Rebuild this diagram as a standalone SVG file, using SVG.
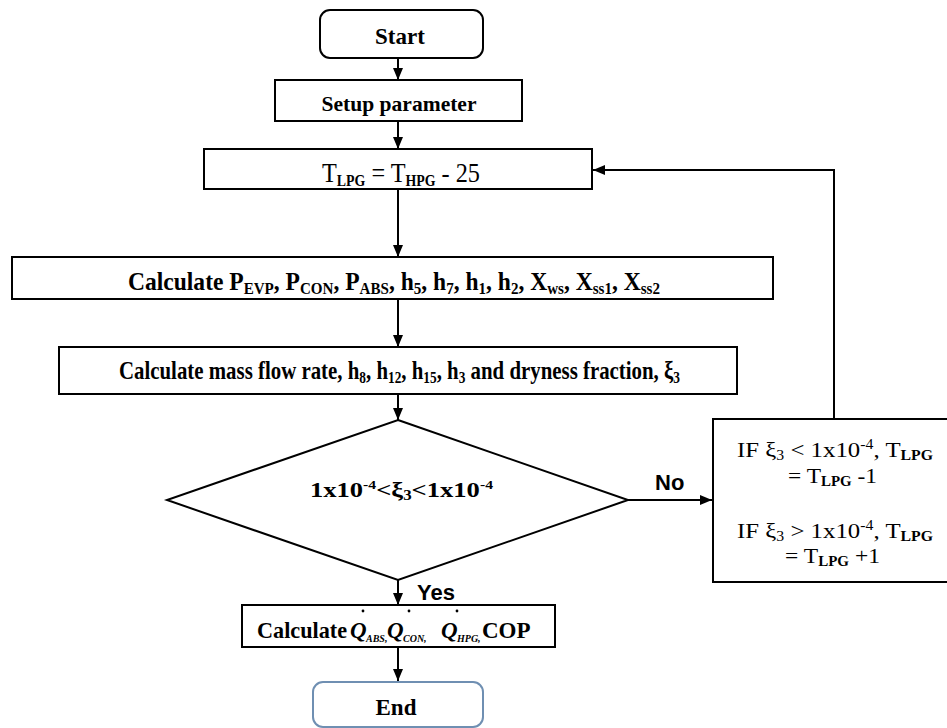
<svg xmlns="http://www.w3.org/2000/svg" width="947" height="728" viewBox="0 0 947 728">
<style>
.box{fill:#fff;stroke:#000;stroke-width:2}
.rbox{fill:#fff;stroke:#000;stroke-width:2}
.ebox{fill:#fff;stroke:#6f8fb2;stroke-width:2}
.t{font-family:"Liberation Serif","Times New Roman",serif;font-weight:bold;fill:#000}
.r{font-family:"Liberation Serif","Times New Roman",serif;font-weight:normal;fill:#000}
.lbl{font-family:"Liberation Sans",Arial,sans-serif;font-weight:bold;font-size:22px;fill:#000}
.conn{stroke:#000;stroke-width:2;fill:none}
</style>
<defs>
<marker id="ah" markerUnits="userSpaceOnUse" markerWidth="12" markerHeight="10" refX="12" refY="5" orient="auto">
<path d="M0,0 L12,5 L0,10 z" fill="#000"/>
</marker>
</defs>
<rect width="947" height="728" fill="#fff"/>

<g id="connectors">
<line class="conn" x1="398" y1="58" x2="398" y2="80" marker-end="url(#ah)"/>
<line class="conn" x1="398" y1="121" x2="398" y2="149" marker-end="url(#ah)"/>
<line class="conn" x1="398" y1="189" x2="398" y2="257" marker-end="url(#ah)"/>
<line class="conn" x1="398" y1="299" x2="398" y2="347" marker-end="url(#ah)"/>
<line class="conn" x1="398" y1="394" x2="398" y2="420" marker-end="url(#ah)"/>
<line class="conn" x1="398" y1="580" x2="398" y2="605" marker-end="url(#ah)"/>
<line class="conn" x1="398" y1="647" x2="398" y2="681" marker-end="url(#ah)"/>
<line class="conn" x1="628" y1="500" x2="712" y2="500" marker-end="url(#ah)"/>
<polyline class="conn" points="834,419 834,170 593,170" marker-end="url(#ah)"/>
<text class="lbl" x="655" y="490">No</text>
<text class="lbl" x="417" y="600">Yes</text>
</g>

<g id="start">
<rect class="box" x="320" y="10" width="163" height="48" rx="10"/>
<text class="t" x="400" y="44" font-size="23" text-anchor="middle">Start</text>
</g>

<g id="setup">
<rect class="box" x="275" y="80" width="247" height="41"/>
<text class="t" x="399" y="111" font-size="22" textLength="155" lengthAdjust="spacingAndGlyphs" text-anchor="middle">Setup parameter</text>
</g>

<g id="tlpg">
<rect class="box" x="204" y="149" width="388" height="40"/>
<text class="r" x="322" y="182" font-size="28" textLength="158" lengthAdjust="spacingAndGlyphs">T<tspan font-size="16" font-weight="bold" dy="4">LPG</tspan><tspan dy="-4"> = T</tspan><tspan font-size="16" font-weight="bold" dy="4">HPG</tspan><tspan dy="-4"> - 25</tspan></text>
</g>

<g id="calcP">
<rect class="box" x="12" y="257" width="761" height="42"/>
<text class="t" x="128" y="290" font-size="25" textLength="532" lengthAdjust="spacingAndGlyphs">Calculate P<tspan font-size="16" dy="4">EVP</tspan><tspan dy="-4">, P</tspan><tspan font-size="16" dy="4">CON</tspan><tspan dy="-4">, P</tspan><tspan font-size="16" dy="4">ABS</tspan><tspan dy="-4">, h</tspan><tspan font-size="16" dy="4">5</tspan><tspan dy="-4">, h</tspan><tspan font-size="16" dy="4">7</tspan><tspan dy="-4">, h</tspan><tspan font-size="16" dy="4">1</tspan><tspan dy="-4">, h</tspan><tspan font-size="16" dy="4">2</tspan><tspan dy="-4">, X</tspan><tspan font-size="16" dy="4">ws</tspan><tspan dy="-4">, X</tspan><tspan font-size="16" dy="4">ss1</tspan><tspan dy="-4">, X</tspan><tspan font-size="16" dy="4">ss2</tspan></text>
</g>

<g id="calcMass">
<rect class="box" x="59" y="347" width="678" height="47"/>
<text class="t" x="119" y="379" font-size="25" textLength="561" lengthAdjust="spacingAndGlyphs">Calculate mass flow rate, h<tspan font-size="16" dy="4">8</tspan><tspan dy="-4">, h</tspan><tspan font-size="16" dy="4">12</tspan><tspan dy="-4">, h</tspan><tspan font-size="16" dy="4">15</tspan><tspan dy="-4">, h</tspan><tspan font-size="16" dy="4">3</tspan><tspan dy="-4"> and dryness fraction, ξ</tspan><tspan font-size="16" dy="4">3</tspan></text>
</g>

<g id="decision">
<polygon class="box" points="398,420 628,500 398,580 167,500"/>
<text class="t" x="310" y="497" font-size="22" textLength="183" lengthAdjust="spacingAndGlyphs">1x10<tspan font-size="13" dy="-8">-4</tspan><tspan dy="8">&lt;ξ</tspan><tspan font-size="14" dy="3">3</tspan><tspan dy="-3">&lt;1x10</tspan><tspan font-size="13" dy="-8">-4</tspan></text>
</g>

<g id="adjust">
<rect class="rbox" x="713" y="419" width="260" height="163"/>
<text class="r" x="737" y="457" font-size="22" textLength="196" lengthAdjust="spacingAndGlyphs">IF ξ<tspan font-size="14" dy="3">3</tspan><tspan dy="-3"> &lt; 1x10</tspan><tspan font-size="14" dy="-8">-4</tspan><tspan dy="8">,  T</tspan><tspan font-size="14" font-weight="bold" dy="3">LPG</tspan></text>
<text class="r" x="788" y="483" font-size="22" textLength="89" lengthAdjust="spacingAndGlyphs">= T<tspan font-size="14" font-weight="bold" dy="3">LPG</tspan><tspan dy="-3"> -1</tspan></text>
<text class="r" x="737" y="538" font-size="22" textLength="196" lengthAdjust="spacingAndGlyphs">IF ξ<tspan font-size="14" dy="3">3</tspan><tspan dy="-3"> &gt; 1x10</tspan><tspan font-size="14" dy="-8">-4</tspan><tspan dy="8">,  T</tspan><tspan font-size="14" font-weight="bold" dy="3">LPG</tspan></text>
<text class="r" x="785" y="563" font-size="22" textLength="95" lengthAdjust="spacingAndGlyphs">= T<tspan font-size="14" font-weight="bold" dy="3">LPG</tspan><tspan dy="-3"> +1</tspan></text>
</g>

<g id="calcQ">
<rect class="box" x="242" y="605" width="313" height="42"/>
<text class="t" x="257" y="638" font-size="23" textLength="90" lengthAdjust="spacingAndGlyphs">Calculate</text>
<text class="t" font-size="23" y="638"><tspan x="350" font-style="italic">Q</tspan><tspan x="366" font-size="10" font-style="italic" dy="4">ABS,</tspan><tspan x="387" font-style="italic" dy="-4">Q</tspan><tspan x="403" font-size="10" font-style="italic" dy="4">CON,</tspan><tspan x="441" font-style="italic" dy="-4">Q</tspan><tspan x="457" font-size="10" font-style="italic" dy="4">HPG,</tspan><tspan x="482" dy="-4">COP</tspan></text>
<circle cx="363" cy="611" r="1.4" fill="#000"/>
<circle cx="409" cy="611" r="1.4" fill="#000"/>
<circle cx="457" cy="611" r="1.4" fill="#000"/>
</g>

<g id="end">
<rect class="ebox" x="313" y="682" width="170" height="45" rx="10"/>
<text class="t" x="396" y="715" font-size="23" text-anchor="middle">End</text>
</g>
</svg>
